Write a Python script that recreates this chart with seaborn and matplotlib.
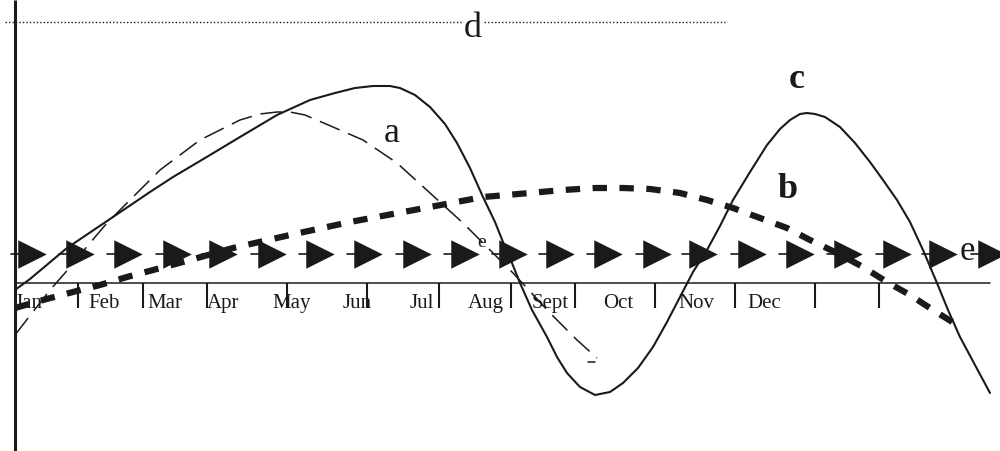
import numpy as np
import pandas as pd
import matplotlib
matplotlib.use('Agg')
import matplotlib.pyplot as plt
import seaborn as sns

#-----------values (x right, y down, drawing units)-----------
months = ['Jan', 'Feb', 'Mar', 'Apr', 'May', 'Jun', 'Jul', 'Aug', 'Sept', 'Oct', 'Nov', 'Dec']
month_x = [15, 88, 147, 207, 272, 343, 410, 468, 532, 603, 678, 747]
tick_x = [78, 143, 207, 287, 367, 439, 511, 575, 655, 735, 815, 879]

# curve a : thin dashed
a_x = [15, 32, 50, 65, 90, 107, 133, 160, 200, 240, 260, 277, 290, 305, 333, 363, 397, 430, 463, 490, 513, 550, 577, 597]
a_y = [335, 313, 290, 273, 243, 223, 197, 170, 140, 120, 114, 112, 112, 115, 127, 140, 163, 193, 223, 250, 273, 313, 340, 358]
a_tail_x = [588, 595]
a_tail_y = [362, 362]

# curve b : thick dotted
b_x = [15, 43, 73, 100, 127, 183, 233, 290, 350, 430, 483, 507, 563, 595, 623, 650, 680, 707, 733, 760, 787, 810, 837, 863, 887, 910, 933, 962]
b_y = [308, 300, 292, 285, 277, 262, 248, 235, 222, 207, 197, 195, 190, 188, 188, 189, 193, 200, 208, 218, 228, 240, 253, 267, 282, 295, 310, 328]

# curve c : solid
c_x = [15, 30, 67, 113, 150, 173, 200, 240, 277, 310, 335, 355, 373, 390, 400, 415, 430, 445, 457, 470, 483, 495,
       503, 512, 520, 532, 547, 557, 567, 580, 595, 610, 623, 638, 653, 667, 680, 693, 707, 720, 733, 750,
       767, 780, 790, 800, 807, 815, 825, 840, 855, 870, 883, 897, 910, 923, 937, 948, 960, 975, 990]
c_y = [290, 279, 248, 217, 192, 177, 161, 137, 115, 100, 93, 88, 86, 86, 88, 95, 107, 124, 143, 168, 197, 222,
       242, 263, 283, 310, 337, 357, 373, 387, 395, 392, 383, 368, 347, 322, 297, 272, 250, 226, 200, 172,
       145, 129, 120, 114, 113, 114, 117, 127, 143, 162, 180, 200, 222, 250, 283, 310, 337, 365, 393]

# line d : fine dots across the top
d_x = [5, 725]
d_y = [22, 22]

# line e : row of arrow heads
e_x = [32, 80, 128, 177, 223, 272, 320, 368, 417, 465, 513, 560, 608, 657, 703, 752, 800, 848, 897, 943, 992]
e_y = [254] * len(e_x)

#-----------drawing-------------
sns.set_theme(style='white')
plt.rcParams['font.family'] = ['Liberation Serif', 'DejaVu Serif']

fig = plt.figure(figsize=(10, 4.51), dpi=100)
ax = fig.add_axes([0, 0, 1, 1])
ax.set_xlim(0, 1000)
ax.set_ylim(451, 0)
ax.axis('off')

# axes of the sketch
ax.plot([15, 15], [0, 451], color='k', lw=2.2, solid_capstyle='butt')
ax.plot([15, 990], [283, 283], color='k', lw=1.1)
for tx in tick_x:
    ax.plot([tx, tx], [283, 308], color='k', lw=1.5, solid_capstyle='butt')
for name, mx in zip(months, month_x):
    ax.text(mx, 308, name, fontsize=15, ha='left', va='baseline', color='k')

# d
sns.lineplot(x=d_x, y=d_y, ax=ax, color='k', lw=1, linestyle=(0, (1, 1.5)), sort=False, estimator=None)
ax.text(473, 37, 'd', fontsize=26, ha='center', va='baseline', color='k',
        bbox=dict(fc='white', ec='none', pad=0.5))

# e row
dash_df = pd.DataFrame({'x': e_x, 'y': e_y})
for ex, ey in zip(e_x, e_y):
    ax.plot([ex - 21, ex - 13], [ey, ey], color='k', lw=1.2)
sns.scatterplot(data=dash_df, x='x', y='y', ax=ax, marker='>', s=420, color='k', linewidth=0, zorder=5)
ax.text(967, 260, 'e', fontsize=25, ha='center', va='baseline', color='k', zorder=6)
ax.text(482, 247, 'e', fontsize=14, ha='center', va='baseline', color='k')

# a
sns.lineplot(x=a_x, y=a_y, ax=ax, color='k', lw=1.1, linestyle=(0, (14, 6)), sort=False, estimator=None)
sns.lineplot(x=a_tail_x, y=a_tail_y, ax=ax, color='k', lw=1.1, sort=False, estimator=None)
ax.text(392, 142, 'a', fontsize=26, ha='center', va='baseline', color='k')

# b
sns.lineplot(x=b_x, y=b_y, ax=ax, color='k', lw=4.5, linestyle=(0, (2.3, 2.0)), sort=False, estimator=None)
ax.text(788, 198, 'b', fontsize=26, fontweight='bold', ha='center', va='baseline', color='k')

# c
sns.lineplot(x=c_x, y=c_y, ax=ax, color='k', lw=1.5, sort=False, estimator=None)
ax.text(797, 88, 'c', fontsize=26, fontweight='bold', ha='center', va='baseline', color='k')

fig.savefig('out.png', dpi=100, facecolor='white')
